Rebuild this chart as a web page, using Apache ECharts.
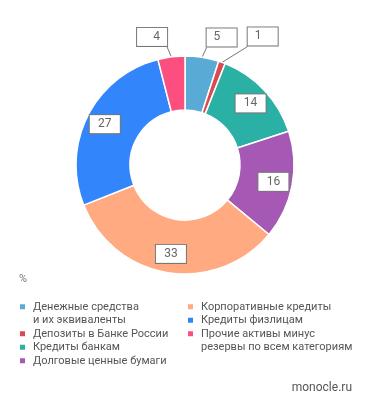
<!DOCTYPE html>
<html><head><meta charset="utf-8">
<script src="https://cdn.jsdelivr.net/npm/echarts@6/dist/echarts.min.js"></script>
<style>html,body{margin:0;padding:0;background:#fff}#c{width:371px;height:410px}</style>
</head><body><div id="c"></div>
<script>
const categories = [
  'Денежные средства\nи их эквиваленты',
  'Депозиты в Банке России',
  'Кредиты банкам',
  'Долговые ценные бумаги',
  'Корпоративные кредиты',
  'Кредиты физлицам',
  'Прочие активы минус\nрезервы по всем категориям'
];
const values = [5, 1, 14, 16, 33, 27, 4];
const colors = ['#5aaad6', '#d84b50', '#2ab0a4', '#a559b5', '#ffaa80', '#3385fb', '#fc4f80'];
const outsideLabel = [true, true, false, false, false, false, true];
const unitLabel = '%';
const sourceLabel = 'monocle.ru';

const FONT = 'Roboto, "Noto Sans", sans-serif';
const boxLabel = {
  color: '#666', fontSize: 12, fontFamily: FONT,
  backgroundColor: '#fff', borderColor: '#777', borderWidth: 1,
  padding: [3, 7, 3, 7], width: 16, align: 'center', overflow: 'none'
};

const ringData = categories.map((n, i) => ({
  name: n, value: values[i], itemStyle: { color: colors[i] },
  label: { show: outsideLabel[i] },
  labelLine: i === 1 ? { show: true, length: 17, length2: 20 } : { show: outsideLabel[i] }
}));
const innerLabelData = categories.map((n, i) => ({
  name: n, value: values[i],
  label: { show: !outsideLabel[i] }
}));

function legendItems(from, to) {
  const arr = [];
  for (let i = from; i < to; i++) arr.push({ name: categories[i], itemStyle: { color: colors[i] } });
  return arr;
}
const legendBase = {
  orient: 'vertical', itemWidth: 7, itemHeight: 7, itemGap: 0, icon: 'rect',
  selectedMode: false, padding: 0,
  formatter: function (name) { return name.indexOf('\n') >= 0 ? ' \n' + name : name; },
  textStyle: { color: '#555', fontSize: 11, fontFamily: FONT, lineHeight: 13.5, padding: [0, 0, 0, 2] }
};

const chart = echarts.init(document.getElementById('c'));
chart.setOption({
  animation: false,
  title: [
    { text: unitLabel, left: 19, top: 274, padding: 0, textStyle: { color: '#777', fontSize: 11, fontWeight: 'normal', fontFamily: FONT } },
    { text: sourceLabel, right: 19, top: 382, padding: 0, textStyle: { color: '#555', fontSize: 12, fontWeight: 'normal', fontFamily: FONT } }
  ],
  legend: [
    Object.assign({}, legendBase, { left: 18, top: 286.5, data: legendItems(0, 4) }),
    Object.assign({}, legendBase, { left: 186, top: 300, data: legendItems(4, 6) }),
    Object.assign({}, legendBase, { left: 186, top: 313.5, data: legendItems(6, 7) })
  ],
  series: [
    {
      type: 'pie', center: [185, 165], radius: [55, 109], startAngle: 90, clockwise: true,
      avoidLabelOverlap: false, silent: true,
      itemStyle: { borderColor: '#fff', borderWidth: 1.5 },
      label: Object.assign({ position: 'outside', formatter: '{c}', distanceToLabelLine: 0 }, boxLabel),
      labelLine: { length: 10, length2: 3, lineStyle: { color: '#777', width: 1 } },
      labelLayout: function (p) {
        const pts = p.labelLinePoints;
        const out = { dy: -p.labelRect.height / 2 };
        if (pts && pts.length >= 3) out.labelLinePoints = [pts[0], pts[pts.length - 1]];
        return out;
      },
      data: ringData
    },
    {
      type: 'pie', center: [185, 165], radius: [65, 109], startAngle: 90, clockwise: true,
      avoidLabelOverlap: false, silent: true,
      itemStyle: { color: 'rgba(0,0,0,0)' },
      label: Object.assign({ position: 'inside', formatter: '{c}' }, boxLabel),
      labelLine: { show: false },
      data: innerLabelData
    }
  ]
});
</script></body></html>
